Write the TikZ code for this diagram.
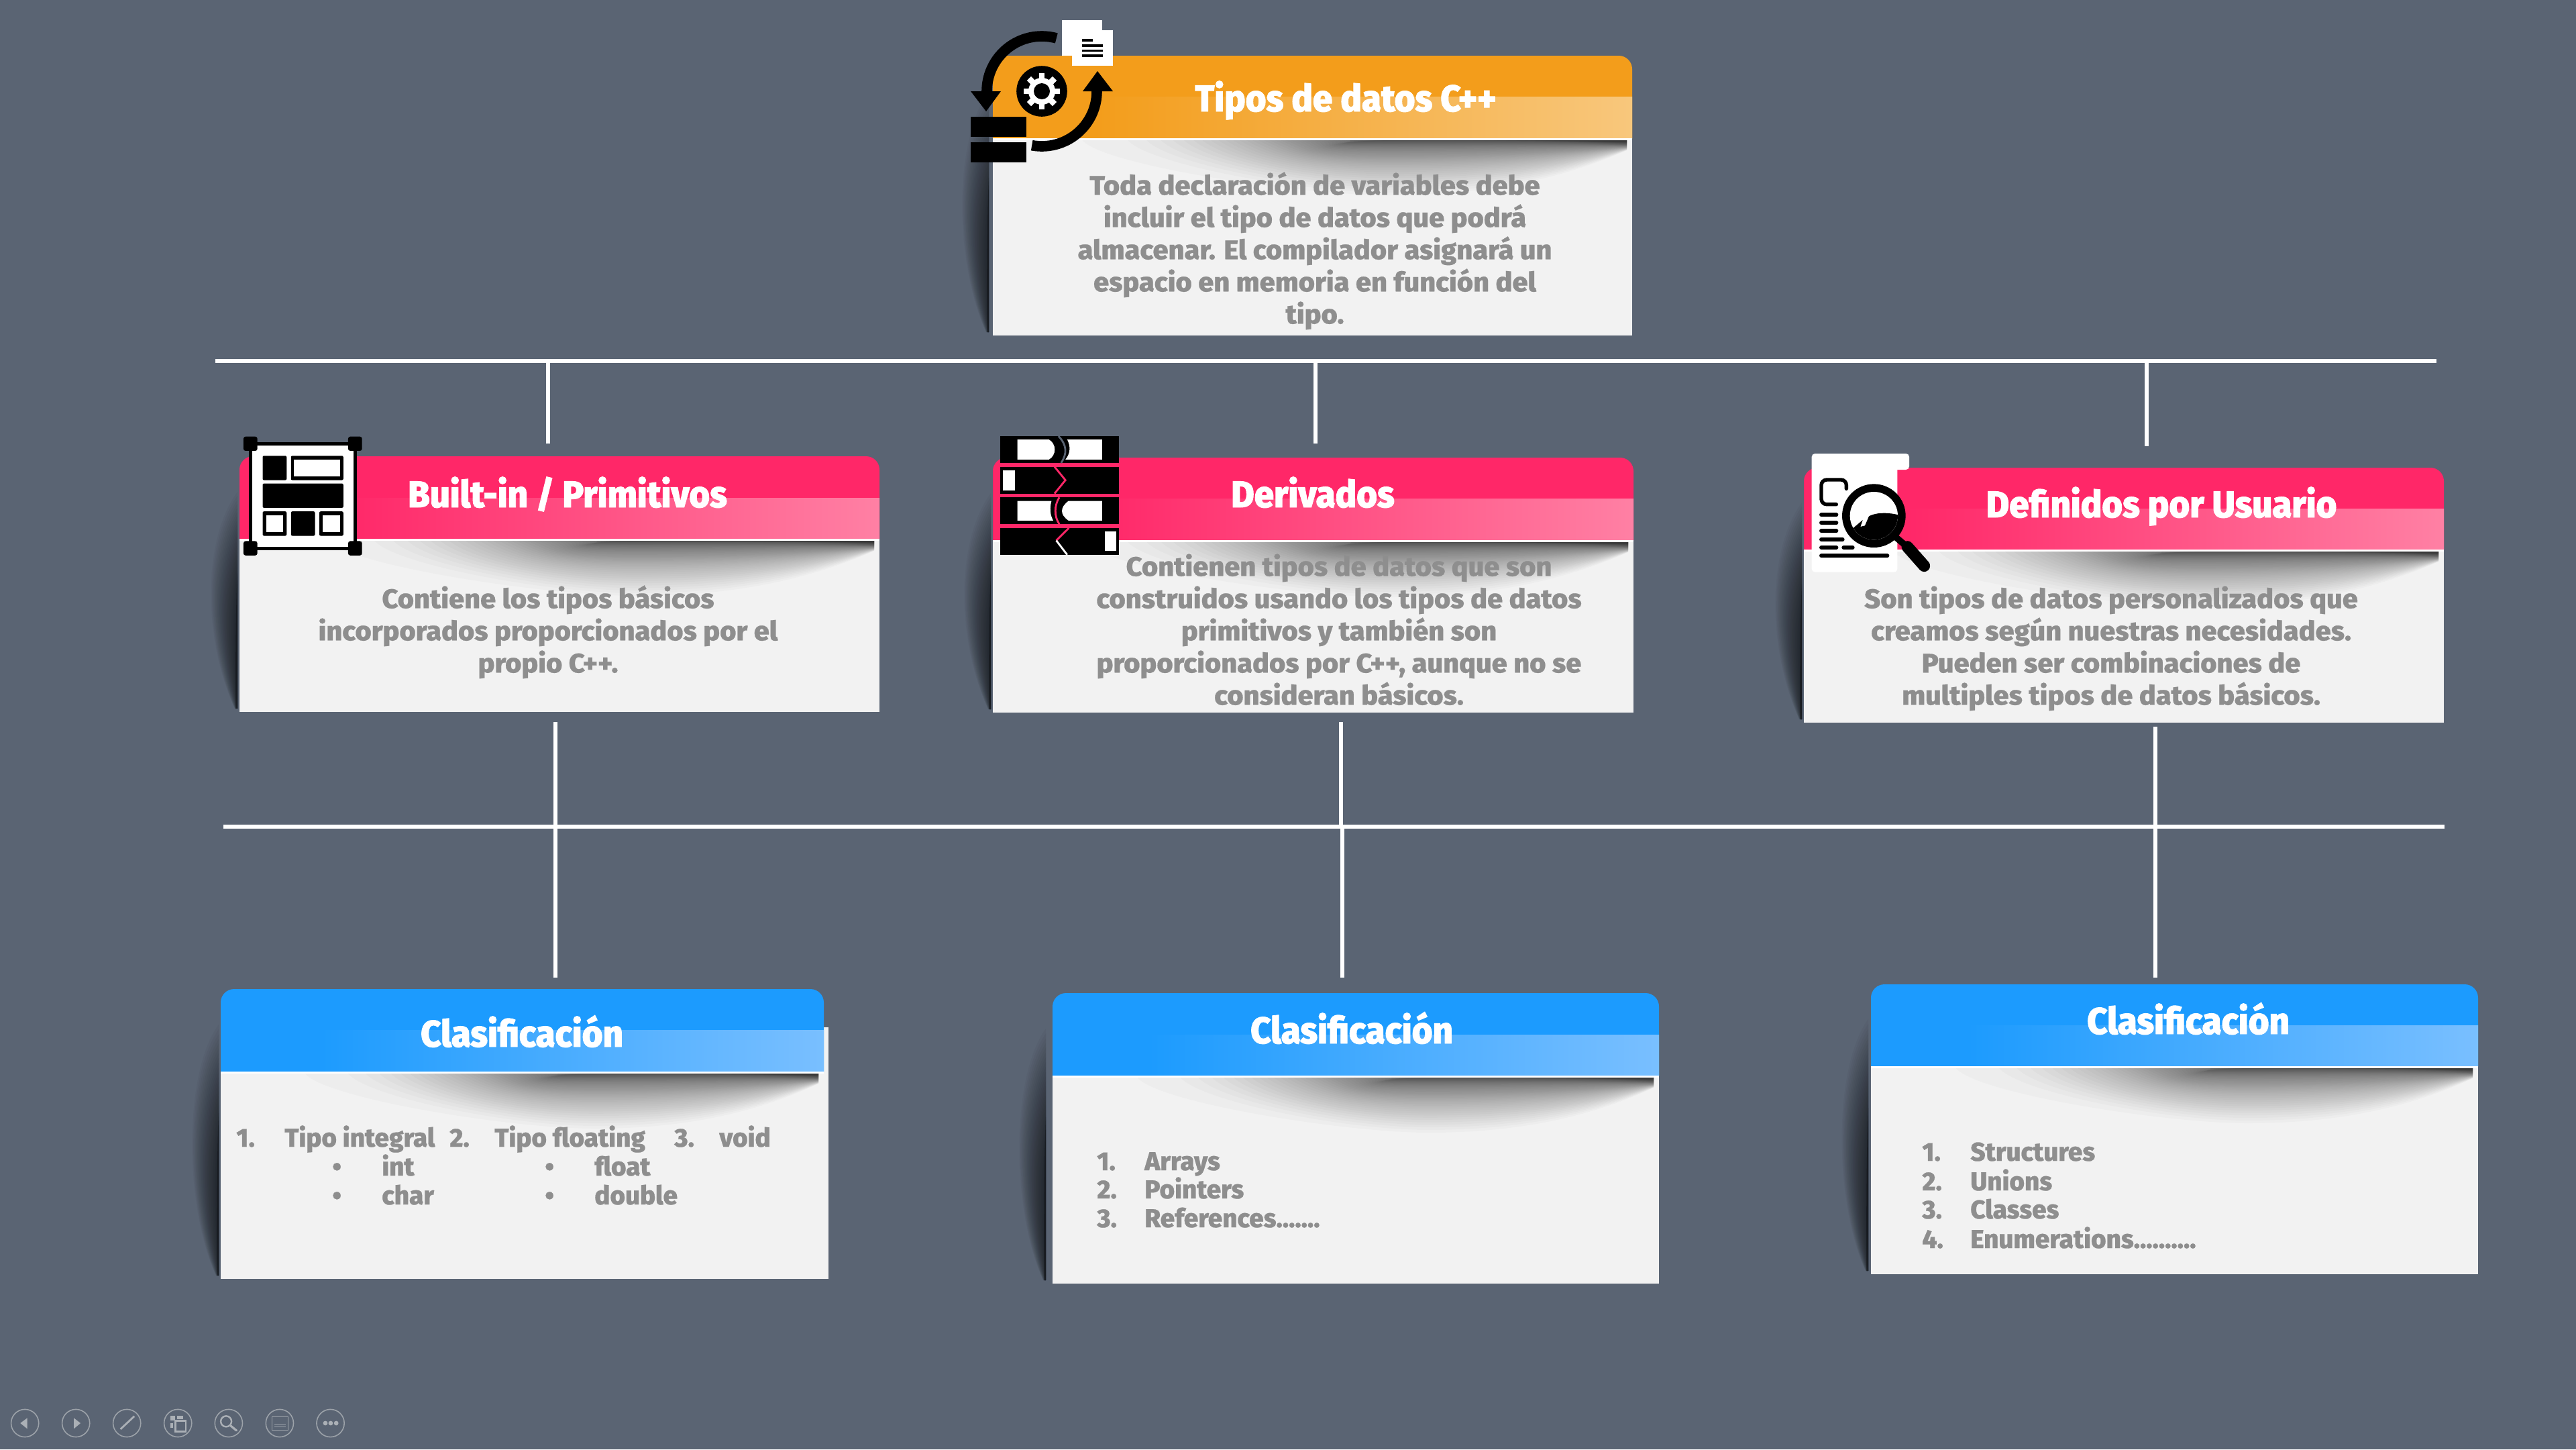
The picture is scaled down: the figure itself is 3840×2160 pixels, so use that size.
\documentclass[tikz,border=0pt]{standalone}
\usepackage{fontspec}
\setmainfont{Fira Sans}
\newfontfamily\bodyf[FakeStretch=1.04,FakeBold=0.6]{Fira Sans ExtraBold}
\newfontfamily\listf[FakeStretch=1.0,FakeBold=0.6]{Fira Sans ExtraBold}
\newfontfamily\titlef[FakeStretch=0.95,FakeBold=1.6]{Fira Sans ExtraBold}
\definecolor{bgc}{HTML}{5A6473}
\definecolor{bodyc}{HTML}{F2F2F2}
\definecolor{textc}{HTML}{8E8E8E}
\definecolor{orangeA}{HTML}{F39D1B}
\definecolor{orangeB}{HTML}{F8C77C}
\definecolor{pinkA}{HTML}{FF2768}
\definecolor{pinkB}{HTML}{FF80A4}
\definecolor{blueA}{HTML}{1C9BFE}
\definecolor{blueB}{HTML}{79BFFF}
\definecolor{navc}{HTML}{9CA2A9}
\pgfdeclarehorizontalshading{bandorange}{100bp}{color(0bp)=(orangeA); color(33bp)=(orangeA); color(75bp)=(orangeB); color(100bp)=(orangeB)}
\pgfdeclarehorizontalshading{bandpink}{100bp}{color(0bp)=(pinkA); color(33bp)=(pinkA); color(75bp)=(pinkB); color(100bp)=(pinkB)}
\pgfdeclarehorizontalshading{bandblue}{100bp}{color(0bp)=(blueA); color(33bp)=(blueA); color(75bp)=(blueB); color(100bp)=(blueB)}
% #1 L, #2 T, #3 band top, #4 head bottom, #5 bottom, #6 R, #7 colour, #8 shading, #9 gap of the side shadow
\newcommand{\cardbox}[9]{%
  \pgfmathsetmacro\Lg{#1-#9}%
  \pgfmathsetmacro\HH{#5-#4}%
  \foreach \k in {1,...,24}{%
    \pgfmathsetmacro\uu{\k/24}%
    \pgfmathsetmacro\tp{#4-70+(1-\uu)*0.55*\HH}%
    \fill[black,opacity=0.03] (\Lg,\tp) .. controls ({\Lg-52*\uu},{\tp+70}) and ({\Lg-52*\uu},{#5-110}) .. ({\Lg-4*\uu},#5-5) -- (\Lg,#5-5) -- cycle;
  }%
  \fill[black,opacity=0.3] (\Lg,{#4+0.2*\HH}) .. controls ({\Lg-3},{#4+0.4*\HH}) and ({\Lg-3},{#4+0.8*\HH}) .. ({\Lg-3},#5-5) -- (\Lg,#5-5) -- cycle;
  \fill[bodyc] (#1,#4) rectangle (#6,#5);
  \fill[#7] (#1,#4) [rounded corners=5mm] -- (#1,#2) -- (#6,#2) [sharp corners] -- (#6,#4) -- cycle;
  \shade[shading=#8] (#1,#3) rectangle (#6,#4);
  \fill[white] (#1,#4) rectangle (#6,#4+3);
  \pgfmathsetmacro\WW{#6-#1}%
  \foreach \k in {1,...,60}{%
    \pgfmathsetmacro\tt{\k/60}%
    \pgfmathsetmacro\dd{82*\tt*\tt*\tt}%
    \pgfmathsetmacro\xl{#1+\WW*(0.14+0.55*sqrt(1-\tt))}%
    \pgfmathsetmacro\xm{#1+\WW*0.62}%
    \fill[black,opacity=0.02] (\xl,#4+3) -- (#6-8,#4+3) -- ({#6-8},{#4+5+13*\tt})
       .. controls ({#1+\WW*0.88},{#4+3+\dd*0.75}) and ({#1+\WW*0.76},{#4+3+\dd}) .. (\xm,{#4+3+\dd})
       .. controls ({min(\xm-1,#1+\WW*0.48)},{#4+3+\dd}) and ({min(\xm-1,\xl+30)},{#4+3+\dd*0.45}) .. (\xl,#4+3) -- cycle;
  }%
}
\tikzset{
  x=0.25mm,y=-0.25mm,
  linkline/.style={draw=white,line width=1.35mm},
  headtext/.style={text=white,anchor=base,inner sep=0pt,font=\titlef\fontsize{39.5}{47}\selectfont},
  paratext/.style={text=textc,anchor=north,inner sep=0pt,align=center,font=\bodyf\fontsize{28.45}{34.14}\selectfont},
  listtext/.style={text=textc,anchor=base west,inner sep=0pt,font=\listf\fontsize{27.5}{32}\selectfont},
  navring/.style={draw=navc,line width=0.4mm},
  navmark/.style={fill=navc!85!white},
  icn/.style={fill=black},
  icw/.style={fill=white},
}
\newcommand{\fstl}{\rule{0pt}{10mm}}
\begin{document}
\begin{tikzpicture}
\useasboundingbox (0,0) rectangle (3840,2160);
\fill[bgc] (0,0) rectangle (3840,2160);

% connectors
\coordinate (busA1) at (321,538);
\coordinate (busA2) at (3632,538);
\coordinate (busB1) at (333,1232);
\coordinate (busB2) at (3644,1232);
\coordinate (upA) at (817,538);   \coordinate (upAe) at (817,661);
\coordinate (upB) at (1961,538);  \coordinate (upBe) at (1961,661);
\coordinate (upC) at (3200,538);  \coordinate (upCe) at (3200,665);
\coordinate (loA) at (828,1076);  \coordinate (loAe) at (828,1457);
\coordinate (loB) at (1999,1076); \coordinate (loBm) at (1999,1232); \coordinate (loBn) at (2001,1232); \coordinate (loBe) at (2001,1457);
\coordinate (loC) at (3213,1083); \coordinate (loCe) at (3213,1457);
\draw[linkline] (busA1) -- (busA2);
\draw[linkline] (busB1) -- (busB2);
\draw[linkline] (upA) -- (upAe);
\draw[linkline] (upB) -- (upBe);
\draw[linkline] (upC) -- (upCe);
\draw[linkline] (loA) -- (loAe);
\draw[linkline] (loB) -- (loBm) -- (loBn) -- (loBe);
\draw[linkline] (loC) -- (loCe);

% cards
\fill[bodyc] (1228,1531) rectangle (1235,1906);
\cardbox{1480}{83}{144}{206}{500}{2433}{orangeA}{bandorange}{6}
\cardbox{357}{680}{742}{803}{1061}{1311}{pinkA}{bandpink}{3}
\cardbox{1480}{682}{743}{805}{1062}{2435}{pinkA}{bandpink}{3}
\cardbox{2689}{697}{758}{819}{1077}{3643}{pinkA}{bandpink}{3}
\cardbox{329}{1474}{1535}{1597}{1906}{1228}{blueA}{bandblue}{3}
\fill[bodyc] (1228,1600) rectangle (1235,1620);
\cardbox{1569}{1480}{1542}{1603}{1913}{2473}{blueA}{bandblue}{10}
\cardbox{2789}{1467}{1528}{1589}{1899}{3694}{blueA}{bandblue}{4}

% titles
\node[headtext] (tTop) at (2006,166) {Tipos de datos C++};
\node[headtext] (tPrim) at (846,756) {Built-in / Primitivos};
\node[headtext] (tDer) at (1957,756) {Derivados};
\node[headtext] (tUser) at (3222,771) {Definidos por Usuario};
\node[headtext] (tClaA) at (778,1560) {Clasificación};
\node[headtext] (tClaB) at (2015,1555) {Clasificación};
\node[headtext] (tClaC) at (3262,1541) {Clasificación};

% paragraphs
\node[paratext] (pTop) at (1960,250) {\fstl Toda declaración de variables debe\\incluir el tipo de datos que podrá\\almacenar. El compilador asignará un\\espacio en memoria en función del\\tipo.};
\node[paratext] (pPrim) at (817,866) {\fstl Contiene los tipos básicos\\incorporados proporcionados por el\\propio C++.};
\node[paratext] (pDer) at (1996,818) {\fstl Contienen tipos de datos que son\\construidos usando los tipos de datos\\primitivos y también son\\proporcionados por C++, aunque no se\\consideran básicos.};
\node[paratext] (pUser) at (3147,866) {\fstl Son tipos de datos personalizados que\\creamos según nuestras necesidades.\\Pueden ser combinaciones de\\multiples tipos de datos básicos.};

% list A
\node[listtext] (a1) at (352,1709) {1.};
\node[listtext] (a1t) at (424,1709) {Tipo integral};
\node[listtext] (a2) at (670,1709) {2.};
\node[listtext] (a2t) at (737,1709) {Tipo floating};
\node[listtext] (a3) at (1005,1709) {3.};
\node[listtext] (a3t) at (1072,1709) {void};
\node[listtext] (ab1) at (495,1752) {•};
\node[listtext] (ai) at (569,1752) {int};
\node[listtext] (ab2) at (495,1795) {•};
\node[listtext] (ac) at (569,1795) {char};
\node[listtext] (ab3) at (812,1752) {•};
\node[listtext] (af) at (886,1752) {float};
\node[listtext] (ab4) at (812,1795) {•};
\node[listtext] (ad) at (886,1795) {double};
% list B
\node[listtext] (b1) at (1635,1744) {1.};
\node[listtext] (b1t) at (1706,1744) {Arrays};
\node[listtext] (b2) at (1635,1786) {2.};
\node[listtext] (b2t) at (1706,1786) {Pointers};
\node[listtext] (b3) at (1635,1829) {3.};
\node[listtext] (b3t) at (1706,1829) {References.......};
% list C
\node[listtext] (c1) at (2865,1730) {1.};
\node[listtext] (c1t) at (2937,1730) {Structures};
\node[listtext] (c2) at (2865,1774) {2.};
\node[listtext] (c2t) at (2937,1774) {Unions};
\node[listtext] (c3) at (2865,1816) {3.};
\node[listtext] (c3t) at (2937,1816) {Classes};
\node[listtext] (c4) at (2865,1860) {4.};
\node[listtext] (c4t) at (2937,1860) {Enumerations..........};

% icon: process
\fill[icw] (1583,30) rectangle (1643,83);
\fill[icw] (1598,45) rectangle (1659,98);
\fill[icn] (1613,58) rectangle (1629,62);
\fill[icn] (1613,66) rectangle (1644,70);
\fill[icn] (1613,74) rectangle (1644,77);
\fill[icn] (1613,81) rectangle (1644,85);
\draw[line width=3.9mm] plot[domain=-180:-74.6,samples=40,smooth] ({1553+82*cos(\x)},{136+82*sin(\x)});
\draw[line width=3.9mm] plot[domain=0:100.4,samples=40,smooth] ({1553+82*cos(\x)},{136+82*sin(\x)});
\fill[icn] (1447,136) -- (1492,136) -- (1470,166) -- cycle;
\fill[icn] (1614,136) -- (1659,136) -- (1636,106) -- cycle;
\fill[icn] (1447,174) rectangle (1530,204);
\fill[icn] (1447,212) rectangle (1530,242);
\fill[icn] (1553,136) circle[radius=9.45mm];
\foreach \a in {0,45,...,315}{\draw[white,line width=2.2mm] (1553,136) -- ({1553+27*cos(\a)},{136+27*sin(\a)});}
\fill[icw] (1553,136) circle[radius=5mm];
\fill[icn] (1553,136) circle[radius=3mm];

% icon: layout
\begin{scope}[shift={(320,620)},x=0.1625mm,y=-0.08325mm]
\fill[icw] (82,124) rectangle (322,592);
\draw[line width=1.3mm] (82,124) rectangle (322,592);
\foreach \p/\q in {82/124,322/124,82/592,322/592}{\fill[icn,rounded corners=0.8mm] (\p-16,\q-32) rectangle (\p+16,\q+32);}
\fill[icn,rounded corners=0.5mm] (110,178) rectangle (165,287);
\fill[icn,rounded corners=0.5mm] (175,178) rectangle (295,287);
\fill[icw] (182,195) rectangle (287,270);
\fill[icn,rounded corners=0.5mm] (110,302) rectangle (295,411);
\fill[icn,rounded corners=0.5mm] (110,427) rectangle (165,536);
\fill[icw] (118,443) rectangle (157,520);
\fill[icn,rounded corners=0.5mm] (175,427) rectangle (230,536);
\fill[icn,rounded corners=0.5mm] (240,427) rectangle (295,536);
\fill[icw] (248,443) rectangle (287,520);
\end{scope}

% icon: blocks
\begin{scope}[shift={(1440,620)},x=0.1625mm,y=-0.08325mm]
\fill[icn] (78,90) rectangle (350,210);
\fill[icn] (78,227) rectangle (350,347);
\fill[icn] (78,364) rectangle (350,484);
\fill[icn] (78,501) rectangle (350,621);
\draw[bgc,line width=0.7mm] (212,90) .. controls (232,130) and (232,170) .. (218,210);
\draw[pinkA,line width=0.7mm] (203,227) -- (228,287) -- (203,347);
\draw[pinkA,line width=0.7mm] (214,364) .. controls (202,400) and (202,450) .. (214,484);
\draw[pinkA,line width=0.7mm] (236,501) -- (207,557);
\draw[white,line width=0.7mm] (207,557) -- (232,621);
\fill[icw] (118,105) -- (190,105) .. controls (208,125) and (208,175) .. (190,195) -- (118,195) -- cycle;
\fill[icw] (232,105) -- (312,105) -- (312,195) -- (228,195) .. controls (240,165) and (240,135) .. (232,105) -- cycle;
\fill[icw] (85,243) rectangle (112,332);
\fill[icw] (118,380) -- (196,380) .. controls (192,410) and (192,440) .. (200,468) -- (118,468) -- cycle;
\fill[icw] (235,380) -- (312,380) -- (312,468) -- (235,468) .. controls (215,440) and (215,410) .. (235,380) -- cycle;
\fill[icw] (318,517) rectangle (345,605);
\end{scope}

% icon: search document
\begin{scope}[shift={(2680,660)},x=0.08333mm,y=-0.08333mm]
\fill[icw,rounded corners=1.2mm] (62,48) rectangle (445,578);
\fill[icw,rounded corners=1.2mm] (300,48) rectangle (498,120);
\draw[line width=1.35mm,line cap=round,rounded corners=2mm] (217,205) -- (217,165) -- (105,165) -- (105,275) -- (172,275);
\foreach \yy/\xa/\xb in {322/105/172,358/105/172,394/105/172,432/105/200,468/105/172,468/205/245,505/105/400}{
  \draw[line width=1.5mm,line cap=round] (\xa,\yy) -- (\xb,\yy);}
\draw[line width=2.4mm] (430,415) -- (495,470);
\draw[line width=4.4mm,line cap=round] (490,465) -- (565,550);
\fill[icn] (340,326) circle[radius=11.83mm];
\fill[icw] (340,326) circle[radius=8.92mm];
\begin{scope}
\clip (340,326) circle[radius=8.92mm];
\fill[icn] (225,400) -- (290,345) -- (280,375) -- (300,370) -- (318,328) .. controls (350,310) and (410,310) .. (460,325) -- (460,460) -- (225,460) -- cycle;
\end{scope}
\end{scope}

% player bar
\begin{scope}[shift={(0,2080)},x=0.086mm,y=-0.0833mm]
\foreach \c in {108,329,550,771,991,1212,1432}{\draw[navring] (\c,123) circle[radius=5.15mm];}
\fill[navmark] (88,123) -- (118,100) -- (118,148) -- cycle;
\fill[navmark] (349,123) -- (320,100) -- (320,148) -- cycle;
\draw[navc!85!white,line width=0.7mm] (522,150) -- (582,92);
\fill[navmark] (737,90) rectangle (760,112);
\fill[navmark] (768,90) rectangle (795,105);
\fill[navmark] (737,122) rectangle (750,143);
\draw[navc!85!white,line width=0.6mm] (760,112) rectangle (805,160);
\draw[navc!85!white,line width=0.6mm] (980,115) circle[radius=2mm];
\draw[navc!85!white,line width=0.8mm,line cap=round] (1000,135) -- (1025,156);
\draw[navc,line width=0.25mm] (1178,95) rectangle (1248,153);
\draw[navc,line width=0.15mm] (1188,128) -- (1238,128);
\draw[navc,line width=0.15mm] (1188,140) -- (1238,140);
\foreach \c in {1410,1433,1457}{\fill[navmark] (\c,123) circle[radius=0.85mm];}
\end{scope}
\end{tikzpicture}
\end{document}
